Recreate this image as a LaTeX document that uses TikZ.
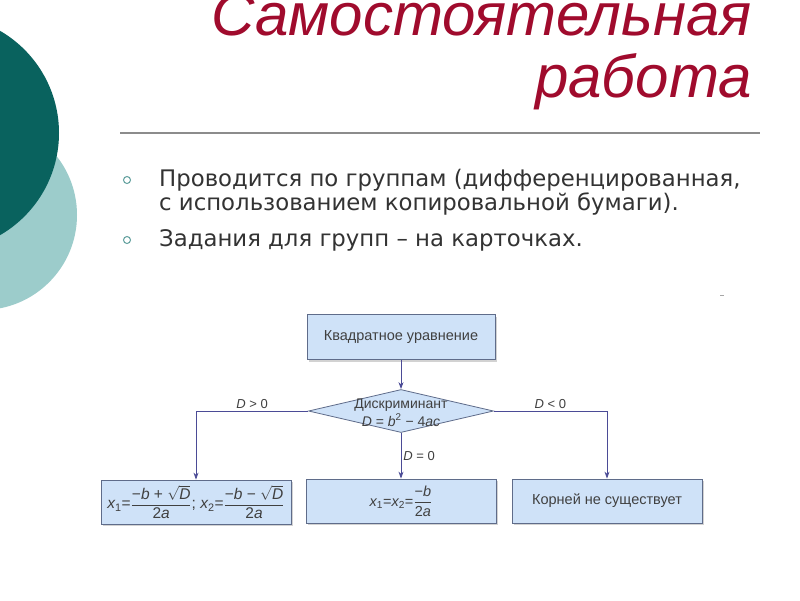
\documentclass[tikz,border=0pt]{standalone}
\usepackage{amsmath}
\usepackage{fontspec}
\setmainfont{Liberation Sans}
\newfontfamily\bodyfont{DejaVu Sans}
\usetikzlibrary{arrows.meta,positioning,shapes.geometric,shadows}
\definecolor{titlered}{HTML}{A00B2D}
\definecolor{darkteal}{HTML}{09625E}
\definecolor{lightteal}{HTML}{9CCCCB}
\definecolor{bulteal}{HTML}{5E9E9C}
\definecolor{bodygray}{HTML}{333333}
\definecolor{rulegray}{HTML}{8C8C8C}
\definecolor{boxfill}{HTML}{CFE2F8}
\definecolor{boxline}{HTML}{5F6C8A}
\definecolor{flowblue}{HTML}{4B4B96}
\definecolor{txtgray}{HTML}{404040}
\newcommand{\mv}[1]{\text{\itshape #1}}
\newcommand{\op}[1]{\text{#1}}

\begin{document}
\begin{tikzpicture}[x=1pt,y=-1pt,>=Stealth,
  ttl/.style={font=\itshape\fontsize{60}{62}\selectfont,text=titlered,inner sep=0pt},
  bodytxt/.style={font=\bodyfont\fontsize{22.8}{24}\selectfont,text=bodygray,inner sep=0pt,anchor=base west},
  bul/.style={draw=bulteal,line width=1pt},
  blk/.style={draw=boxline,fill=boxfill,line width=0.8pt,minimum width=190pt,minimum height=44pt,
    inner sep=0pt,font=\fontsize{14.5}{16}\selectfont,text=txtgray,
    drop shadow={shadow xshift=2pt,shadow yshift=-2pt,fill=black!35,opacity=0.5}},
  dia/.style={diamond,draw=boxline,fill=boxfill,line width=0.8pt,inner sep=0pt,
    minimum width=185pt,minimum height=43pt},
  lbl/.style={font=\fontsize{13}{15}\selectfont,text=txtgray,inner sep=2pt},
  flow/.style={->,draw=flowblue,line width=0.8pt,>={Stealth[length=7pt,width=5pt]}}]
\useasboundingbox (0,0) rectangle (800,600);
\clip (0,0) rectangle (800,600);
\fill[white] (0,0) rectangle (800,600);
% circles at the left
\fill[lightteal] (-18,215) circle[radius=95pt];
\fill[darkteal] (-59,133) circle[radius=118pt];
% title
\node[ttl,anchor=base east] (ttl1) at (752,35) {Самостоятельная};
\node[ttl,anchor=base east] (ttl2) at (752,97) {работа};
\draw[rulegray,line width=1.5pt] (120,133) -- (760,133);
% bullets
\draw[bul] (127,180) circle[radius=3.5pt];
\draw[bul] (127,240) circle[radius=3.5pt];
\node[bodytxt] (b1) at (159,186) {Проводится по группам (дифференцированная,};
\node[bodytxt] (b2) at (159,210) {с использованием копировальной бумаги).};
\node[bodytxt] (b3) at (159,246) {Задания для групп – на карточках.};
\draw[black!35,line width=1pt] (720,295) -- (724,295);
% flowchart
\node[blk,minimum width=188pt,minimum height=45pt] (eq) at (401,337) {Квадратное уравнение};
\node[dia] (disc) at (401,411) {};
\node[lbl,font=\fontsize{14}{15}\selectfont,align=center,inner sep=0pt] (disctxt) at (401,413)
  {Дискриминант\\[1pt] $\mv{D}\op{ = }\mv{b}^{\op{2}}\op{ − 4}\mv{ac}$};
\node[blk,font=\fontsize{15.5}{17}\selectfont] (two) at (196,502)
  {$\mv{x}_{\op{1}}\op{=}\dfrac{\op{−}\mv{b}\op{ + }\sqrt{\mv{D}}}{\op{2}\mv{a}}\op{; }\mv{x}_{\op{2}}\op{=}\dfrac{\op{−}\mv{b}\op{ − }\sqrt{\mv{D}}}{\op{2}\mv{a}}$};
\node[blk] (one) at (401,501)
  {$\mv{x}_{\op{1}}\op{=}\mv{x}_{\op{2}}\op{=}\dfrac{\op{−}\mv{b}}{\op{2}\mv{a}}$};
\node[blk] (none) at (607,501) {Корней не существует};
\draw[flow] (eq.south) -- (disc.north);
\draw[flow] (disc.west) -| (two.north) node[lbl,pos=0.25,above] {\textit{D} > 0};
\draw[flow] (disc.east) -| (none.north) node[lbl,pos=0.25,above] {\textit{D} < 0};
\draw[flow] (disc.south) -- (one.north) node[lbl,midway,right] {\textit{D} = 0};
\end{tikzpicture}
\end{document}
